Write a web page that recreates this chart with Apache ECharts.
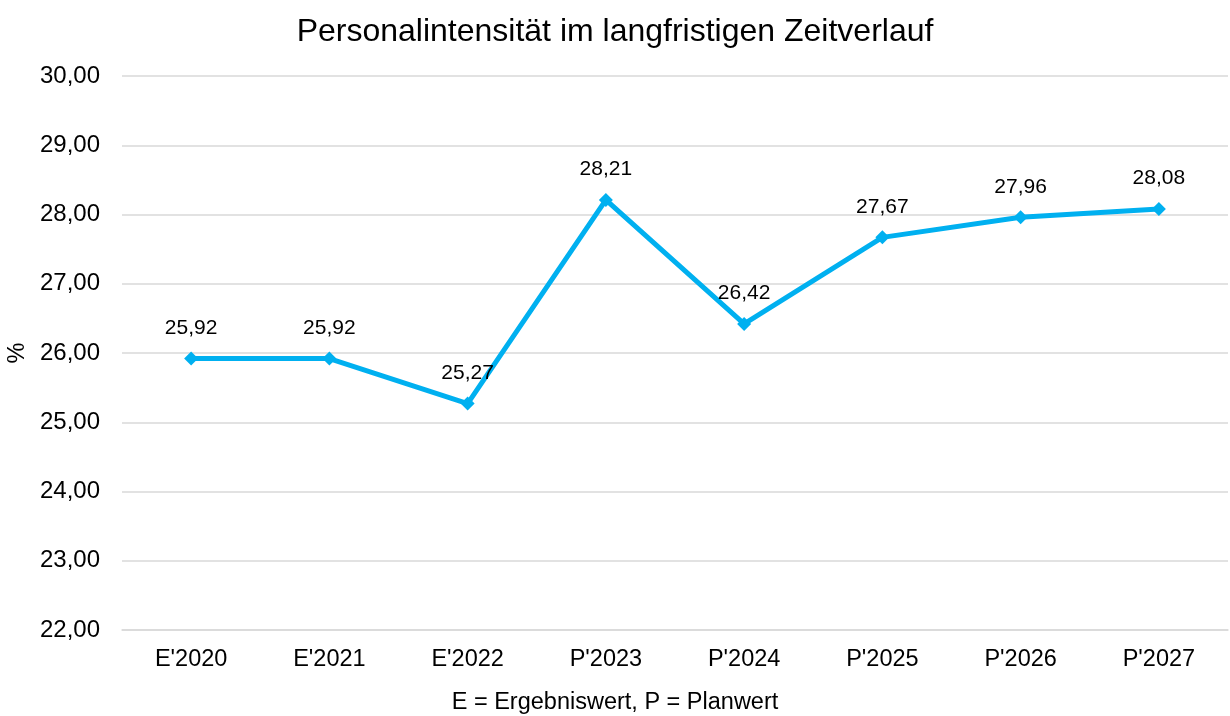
<!DOCTYPE html>
<html>
<head>
<meta charset="utf-8">
<script src="https://cdn.jsdelivr.net/npm/echarts@6/dist/echarts.min.js"></script>
<style>
html, body { margin: 0; padding: 0; background: #fff; }
#chart { width: 1230px; height: 716px; }
</style>
</head>
<body>
<div id="chart"></div>
<script>
var categories = ["E'2020", "E'2021", "E'2022", "P'2023", "P'2024", "P'2025", "P'2026", "P'2027"];
var values = [25.92, 25.92, 25.27, 28.21, 26.42, 27.67, 27.96, 28.08];

var fontFam = 'Liberation Sans, Arial, sans-serif';
function deNum(v) {
	return v.toFixed(2).replace('.', ',');
}

var myChart = echarts.init(document.getElementById('chart'));
myChart.setOption({
	animation: false,
	textStyle: { fontFamily: fontFam },
	title: [{
		text: 'Personalintensität im langfristigen Zeitverlauf',
		left: 'center',
		top: 11,
		textStyle: { fontSize: 32, fontWeight: 'normal', color: '#000', fontFamily: fontFam }
	}, {
		/*x-Achsentitel, mittig zur Gesamtgrafik*/
		text: 'E = Ergebniswert, P = Planwert',
		left: 'center',
		top: 691,
		padding: 0,
		textStyle: { fontSize: 23.5, fontWeight: 'normal', color: '#000', fontFamily: fontFam }
	}],
	grid: { left: 122, right: 2, top: 76, bottom: 86, outerBoundsMode: 'none', containLabel: false },
	xAxis: {
		type: 'category',
		data: categories,
		axisLine: { lineStyle: { color: '#d9d9d9', width: 1.5 } },
		axisTick: { show: false },
		axisLabel: { fontSize: 23.5, color: '#000', margin: 18, fontFamily: fontFam }
	},
	yAxis: {
		type: 'value',
		min: 22,
		max: 30,
		interval: 1,
		name: '%',
		nameLocation: 'middle',
		nameGap: 86,
		nameTextStyle: { fontSize: 23.5, color: '#000', fontFamily: fontFam },
		axisLine: { show: false },
		axisTick: { show: false },
		splitLine: { lineStyle: { color: '#d9d9d9', width: 1.5 } },
		axisLabel: {
			fontSize: 24, color: '#000', margin: 22, fontFamily: fontFam,
			formatter: function (v) { return deNum(v); }
		}
	},
	series: [{
		type: 'line',
		data: values,
		symbol: 'diamond',
		symbolSize: 14,
		lineStyle: { color: '#00b0f0', width: 5 },
		itemStyle: { color: '#00b0f0' },
		label: {
			show: true,
			position: 'top',
			distance: 13,
			fontSize: 21,
			color: '#000',
			fontFamily: fontFam,
			formatter: function (p) { return deNum(p.value); }
		}
	}]
});
</script>
</body>
</html>
